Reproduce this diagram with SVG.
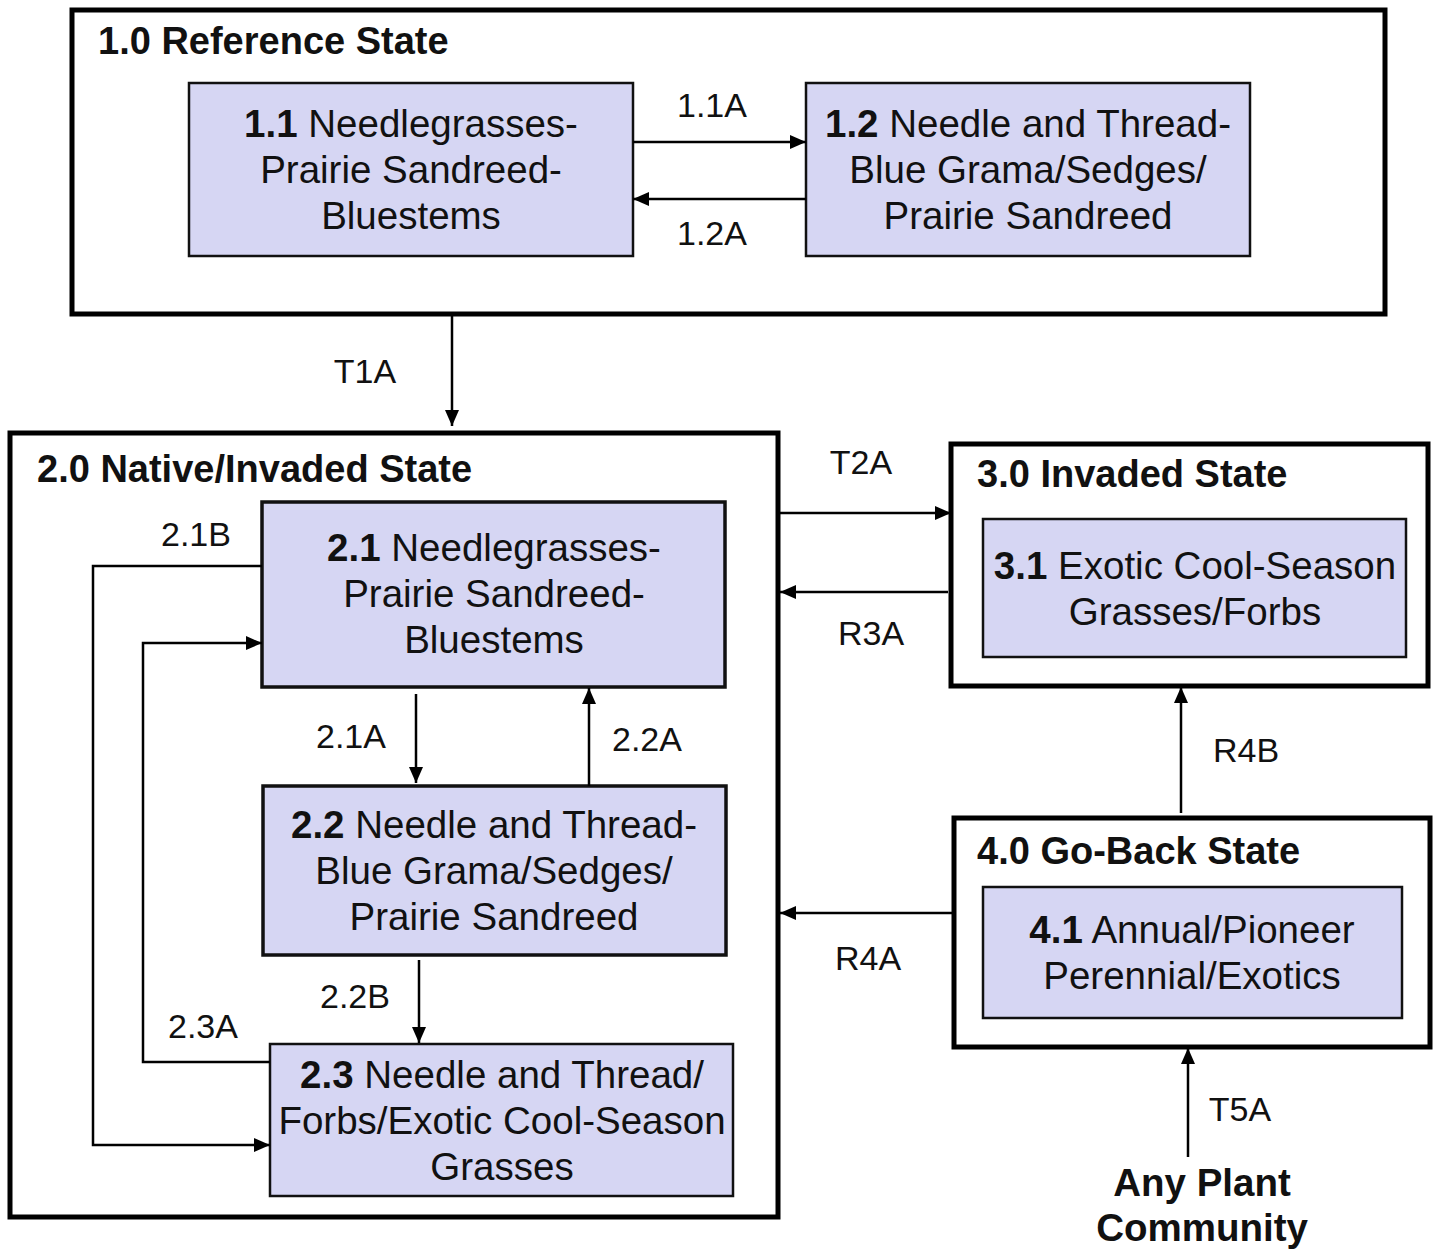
<svg xmlns="http://www.w3.org/2000/svg" width="1440" height="1249" viewBox="0 0 1440 1249">
<defs>
<marker id="ah" viewBox="0 0 16 14" refX="16" refY="7" markerWidth="16" markerHeight="14" markerUnits="userSpaceOnUse" orient="auto">
<path d="M0,0 L16,7 L0,14 Z" fill="#000"/>
</marker>
</defs>
<style>
text{font-family:'Liberation Sans',Arial,sans-serif;fill:#111;}
.state{fill:#fff;stroke:#000;stroke-width:5;}
.comm{fill:#d6d6f3;stroke:#111;stroke-width:2.5;}
.comm3{fill:#d6d6f3;stroke:#111;stroke-width:3.5;}
.ttl{font-size:38px;font-weight:bold;}
.ct{font-size:38.5px;text-anchor:middle;}
.ct tspan.b{font-weight:bold;}
.lbl{font-size:34px;text-anchor:middle;}
.bold{font-size:38.5px;font-weight:bold;text-anchor:middle;}
.con{fill:none;stroke:#000;stroke-width:2.5;marker-end:url(#ah);}
</style>
<rect width="1440" height="1249" fill="#fff"/>

<g id="state1">
<rect class="state" x="72" y="10" width="1313" height="304"/>
<text class="ttl" x="98" y="54">1.0 Reference State</text>
</g>
<g id="c11">
<rect class="comm" x="189" y="83" width="444" height="173"/>
<text class="ct" x="411" y="137"><tspan class="b">1.1</tspan> Needlegrasses-</text>
<text class="ct" x="411" y="183">Prairie Sandreed-</text>
<text class="ct" x="411" y="229">Bluestems</text>
</g>
<g id="c12">
<rect class="comm" x="806" y="83" width="444" height="173"/>
<text class="ct" x="1028" y="137"><tspan class="b">1.2</tspan> Needle and Thread-</text>
<text class="ct" x="1028" y="183">Blue Grama/Sedges/</text>
<text class="ct" x="1028" y="229">Prairie Sandreed</text>
</g>

<g id="state2">
<rect class="state" x="10" y="433" width="768" height="784"/>
<text class="ttl" x="37" y="482">2.0 Native/Invaded State</text>
</g>
<g id="c21">
<rect class="comm3" x="262" y="502" width="463" height="185"/>
<text class="ct" x="494" y="561"><tspan class="b">2.1</tspan> Needlegrasses-</text>
<text class="ct" x="494" y="607">Prairie Sandreed-</text>
<text class="ct" x="494" y="653">Bluestems</text>
</g>
<g id="c22">
<rect class="comm3" x="263" y="786" width="463" height="169"/>
<text class="ct" x="494" y="838"><tspan class="b">2.2</tspan> Needle and Thread-</text>
<text class="ct" x="494" y="884">Blue Grama/Sedges/</text>
<text class="ct" x="494" y="930">Prairie Sandreed</text>
</g>
<g id="c23">
<rect class="comm" x="270" y="1044" width="463" height="152"/>
<text class="ct" x="502" y="1088"><tspan class="b">2.3</tspan> Needle and Thread/</text>
<text class="ct" x="502" y="1134">Forbs/Exotic Cool-Season</text>
<text class="ct" x="502" y="1180">Grasses</text>
</g>

<g id="state3">
<rect class="state" x="951" y="444" width="477" height="242"/>
<text class="ttl" x="977" y="487">3.0 Invaded State</text>
</g>
<g id="c31">
<rect class="comm" x="983" y="519" width="423" height="138"/>
<text class="ct" x="1195" y="579"><tspan class="b">3.1</tspan> Exotic Cool-Season</text>
<text class="ct" x="1195" y="625">Grasses/Forbs</text>
</g>

<g id="state4">
<rect class="state" x="954" y="818" width="476" height="229"/>
<text class="ttl" x="977" y="864">4.0 Go-Back State</text>
</g>
<g id="c41">
<rect class="comm" x="983" y="887" width="419" height="131"/>
<text class="ct" x="1192" y="943"><tspan class="b">4.1</tspan> Annual/Pioneer</text>
<text class="ct" x="1192" y="989">Perennial/Exotics</text>
</g>

<g id="any">
<text class="bold" x="1202" y="1196">Any Plant</text>
<text class="bold" x="1202" y="1241">Community</text>
</g>

<g id="connectors">
<path class="con" d="M633,142 H806"/>
<path class="con" d="M806,199 H633"/>
<path class="con" d="M452,314 V426"/>
<path class="con" d="M416,694 V783"/>
<path class="con" d="M589,786 V688"/>
<path class="con" d="M419,960 V1043"/>
<path class="con" d="M262,566 H93 V1145 H270"/>
<path class="con" d="M270,1062 H143 V643 H262"/>
<path class="con" d="M780,513 H951"/>
<path class="con" d="M948,592 H780"/>
<path class="con" d="M954,913 H780"/>
<path class="con" d="M1181,813 V687"/>
<path class="con" d="M1188,1157 V1048"/>
<text class="lbl" x="712" y="117">1.1A</text>
<text class="lbl" x="712" y="245">1.2A</text>
<text class="lbl" x="365" y="383">T1A</text>
<text class="lbl" x="351" y="748">2.1A</text>
<text class="lbl" x="647" y="751">2.2A</text>
<text class="lbl" x="355" y="1008">2.2B</text>
<text class="lbl" x="196" y="546">2.1B</text>
<text class="lbl" x="203" y="1038">2.3A</text>
<text class="lbl" x="861" y="474">T2A</text>
<text class="lbl" x="871" y="645">R3A</text>
<text class="lbl" x="868" y="970">R4A</text>
<text class="lbl" x="1246" y="762">R4B</text>
<text class="lbl" x="1240" y="1121">T5A</text>
</g>
</svg>
